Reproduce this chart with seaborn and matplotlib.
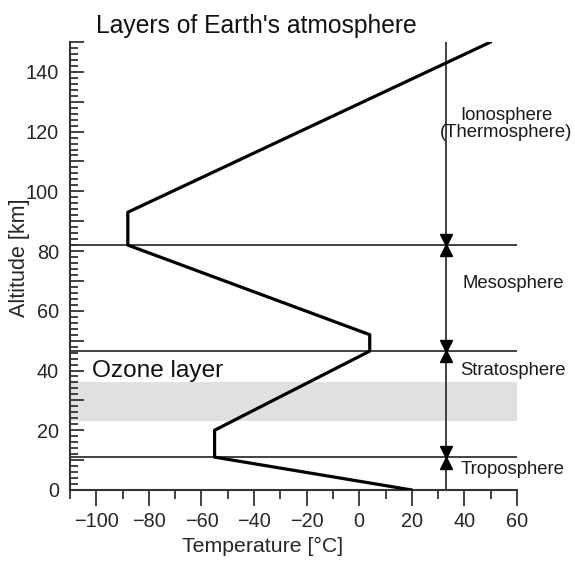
import numpy as np
import pandas as pd
import matplotlib
matplotlib.use("Agg")
import matplotlib.pyplot as plt
from matplotlib.ticker import MultipleLocator, FuncFormatter
import seaborn as sns

# temperature profile (corner points of the curve)
temp = [20, -55, -55, 4, 4, -88, -88, 50]
alt = [0, 11, 20, 46.5, 52, 82, 93, 150]

# layer boundaries and ozone band
boundaries = [11, 46.5, 82]
ozone_band = [23, 36]
layer_names = ["Troposphere", "Stratosphere", "Mesosphere", "Ionosphere\n(Thermosphere)"]
layer_label_alt = [6.7, 40, 69, 122.5]
layer_label_temp = [58.5, 58.5, 58.5, 56.0]

df = pd.DataFrame({"temp": temp, "alt": alt})

sns.set_style("ticks")
plt.rcParams["font.family"] = ["Liberation Sans", "DejaVu Sans"]

fig = plt.figure(figsize=(5.75, 5.66), dpi=100)
ax = fig.add_axes([0.1217, 0.1343, 0.7774, 0.7915])

ink = "#333333"

# ozone layer band
ax.axhspan(ozone_band[0], ozone_band[1], color="#e0e0e0", lw=0, zorder=0)

# boundary lines
ax.hlines(boundaries, -110, 60, color=ink, lw=1.3, zorder=1)

# the vertical arrow line
x_arrow = 33
ax.vlines(x_arrow, 0, 150, color=ink, lw=1.3, zorder=1)
for b in boundaries:
    ax.plot(x_arrow, b + 1.8, marker="v", ms=8, color="black", zorder=3)
    ax.plot(x_arrow, b - 1.8, marker="^", ms=8, color="black", zorder=3)

# temperature curve
sns.lineplot(data=df, x="temp", y="alt", sort=False, estimator=None,
             color="black", lw=2.3, ax=ax, zorder=4)

# layer labels
for name, a, t in zip(layer_names, layer_label_alt, layer_label_temp):
    ax.text(t, a, name, ha="center", va="center", fontsize=13.3,
            color="#1a1a1a", clip_on=False, linespacing=0.95)

ax.text(-101.5, 40, "Ozone layer", ha="left", va="center", fontsize=17.6,
        color="#111111")

fig.text(96 / 575, 1 - 33 / 566, "Layers of Earth's atmosphere",
         ha="left", va="baseline", fontsize=17.7, color="#111111")

ax.set_xlim(-110, 60)
ax.set_ylim(0, 150)

ax.xaxis.set_major_locator(MultipleLocator(20))
ax.xaxis.set_minor_locator(MultipleLocator(10))
ax.yaxis.set_major_locator(MultipleLocator(10))
ax.yaxis.set_minor_locator(MultipleLocator(2))
ax.yaxis.set_major_formatter(FuncFormatter(lambda v, p: f"{int(v)}" if v % 20 == 0 else ""))

ax.tick_params(axis="x", which="major", direction="out", length=11.5, width=1.3,
               color=ink, labelsize=14.3, pad=4)
ax.tick_params(axis="x", which="minor", direction="out", length=6.5, width=1.3, color=ink)
ax.tick_params(axis="y", which="major", direction="in", length=10, width=1.3,
               color=ink, labelsize=14.3, pad=8)
ax.tick_params(axis="y", which="minor", direction="in", length=5.8, width=1.3, color=ink)

sns.despine(ax=ax)
for s in ["left", "bottom"]:
    ax.spines[s].set_linewidth(1.5)
    ax.spines[s].set_color(ink)

ax.set_xlabel("Temperature [°C]", fontsize=15.3)
ax.set_ylabel("Altitude [km]", fontsize=15.5)
ax.xaxis.set_label_coords(0.43, -0.105)
ax.yaxis.set_label_coords(-0.09, 0.518)

fig.savefig("out.png", dpi=100)
